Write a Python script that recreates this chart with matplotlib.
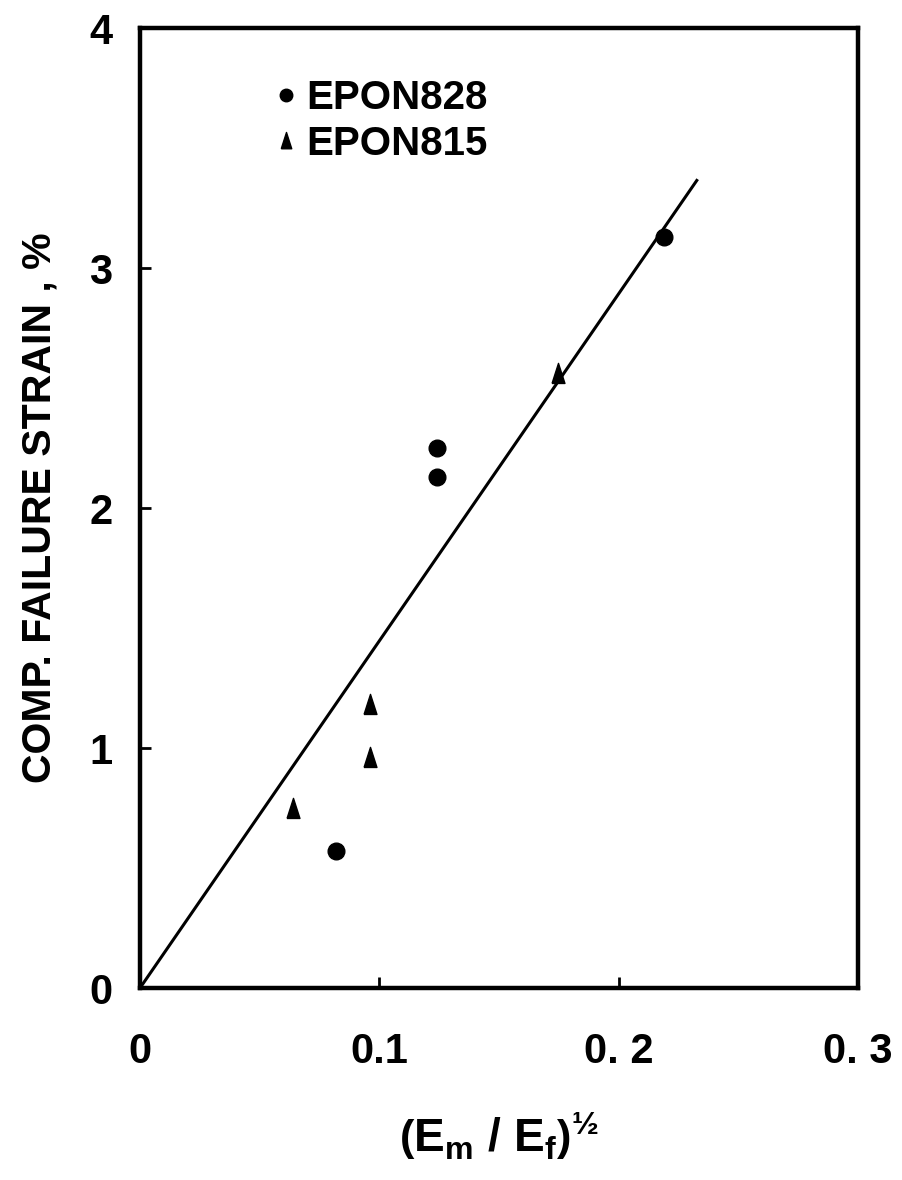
import matplotlib.pyplot as plt
from matplotlib.lines import Line2D

plt.rcParams['font.family'] = ['Liberation Sans', 'DejaVu Sans']
plt.rcParams['mathtext.fontset'] = 'custom'
plt.rcParams['mathtext.rm'] = 'Liberation Sans:bold'
plt.rcParams['mathtext.it'] = 'Liberation Sans:bold'
plt.rcParams['mathtext.bf'] = 'Liberation Sans:bold'

# data
x_828 = [0.082, 0.124, 0.124, 0.219]
y_828 = [0.57, 2.13, 2.25, 3.13]
x_815 = [0.064, 0.096, 0.096, 0.1745]
y_815 = [0.745, 0.96, 1.18, 2.56]
fit_x = [0.0, 0.233]
fit_y = [0.0, 3.37]

xticks = [0, 0.1, 0.2, 0.3]
xticklabels = ['0', '0.1', '0. 2', '0. 3']
yticks = [0, 1, 2, 3, 4]

# narrow triangle like the original
tri = [(-0.36, -0.5), (0.36, -0.5), (0.0, 0.62), (-0.36, -0.5)]

fig = plt.figure(figsize=(9.03, 11.8), dpi=100)
ax = fig.add_axes([140/903, 1 - 988/1180, 718/903, 960/1180])

ax.plot(fit_x, fit_y, color='black', lw=2.2, solid_capstyle='butt')
ax.plot(x_828, y_828, 'o', color='black', ms=12, ls='none')
ax.plot(x_815, y_815, marker=tri, color='black', ms=16, ls='none')

ax.set_xlim(0, 0.3)
ax.set_ylim(0, 4)
for s in ax.spines.values():
    s.set_linewidth(3.2)

ax.set_xticks(xticks)
ax.set_xticklabels(xticklabels)
ax.set_yticks(yticks)
ax.tick_params(direction='in', length=8, width=2, labelsize=30)
ax.tick_params(axis='x', pad=32)
ax.tick_params(axis='y', pad=20)
for lab in ax.get_xticklabels() + ax.get_yticklabels():
    lab.set_fontweight('bold')

ax.set_ylabel('COMP. FAILURE STRAIN , %', fontsize=29.5, fontweight='bold', labelpad=22)
ax.set_xlabel(r'$\left(E_m\ /\ E_f\right)^{½}$', fontsize=33, labelpad=28)

handles = [Line2D([], [], marker='o', color='black', ls='none', ms=9),
           Line2D([], [], marker=tri, color='black', ls='none', ms=13)]
leg = ax.legend(handles, ['EPON828', 'EPON815'], loc='upper left',
                bbox_to_anchor=(0.139, 0.985), frameon=False, fontsize=29,
                handlelength=0.5, handletextpad=0.25, labelspacing=0.2)
for t in leg.get_texts():
    t.set_fontweight('bold')

fig.savefig('out.png', dpi=100)
